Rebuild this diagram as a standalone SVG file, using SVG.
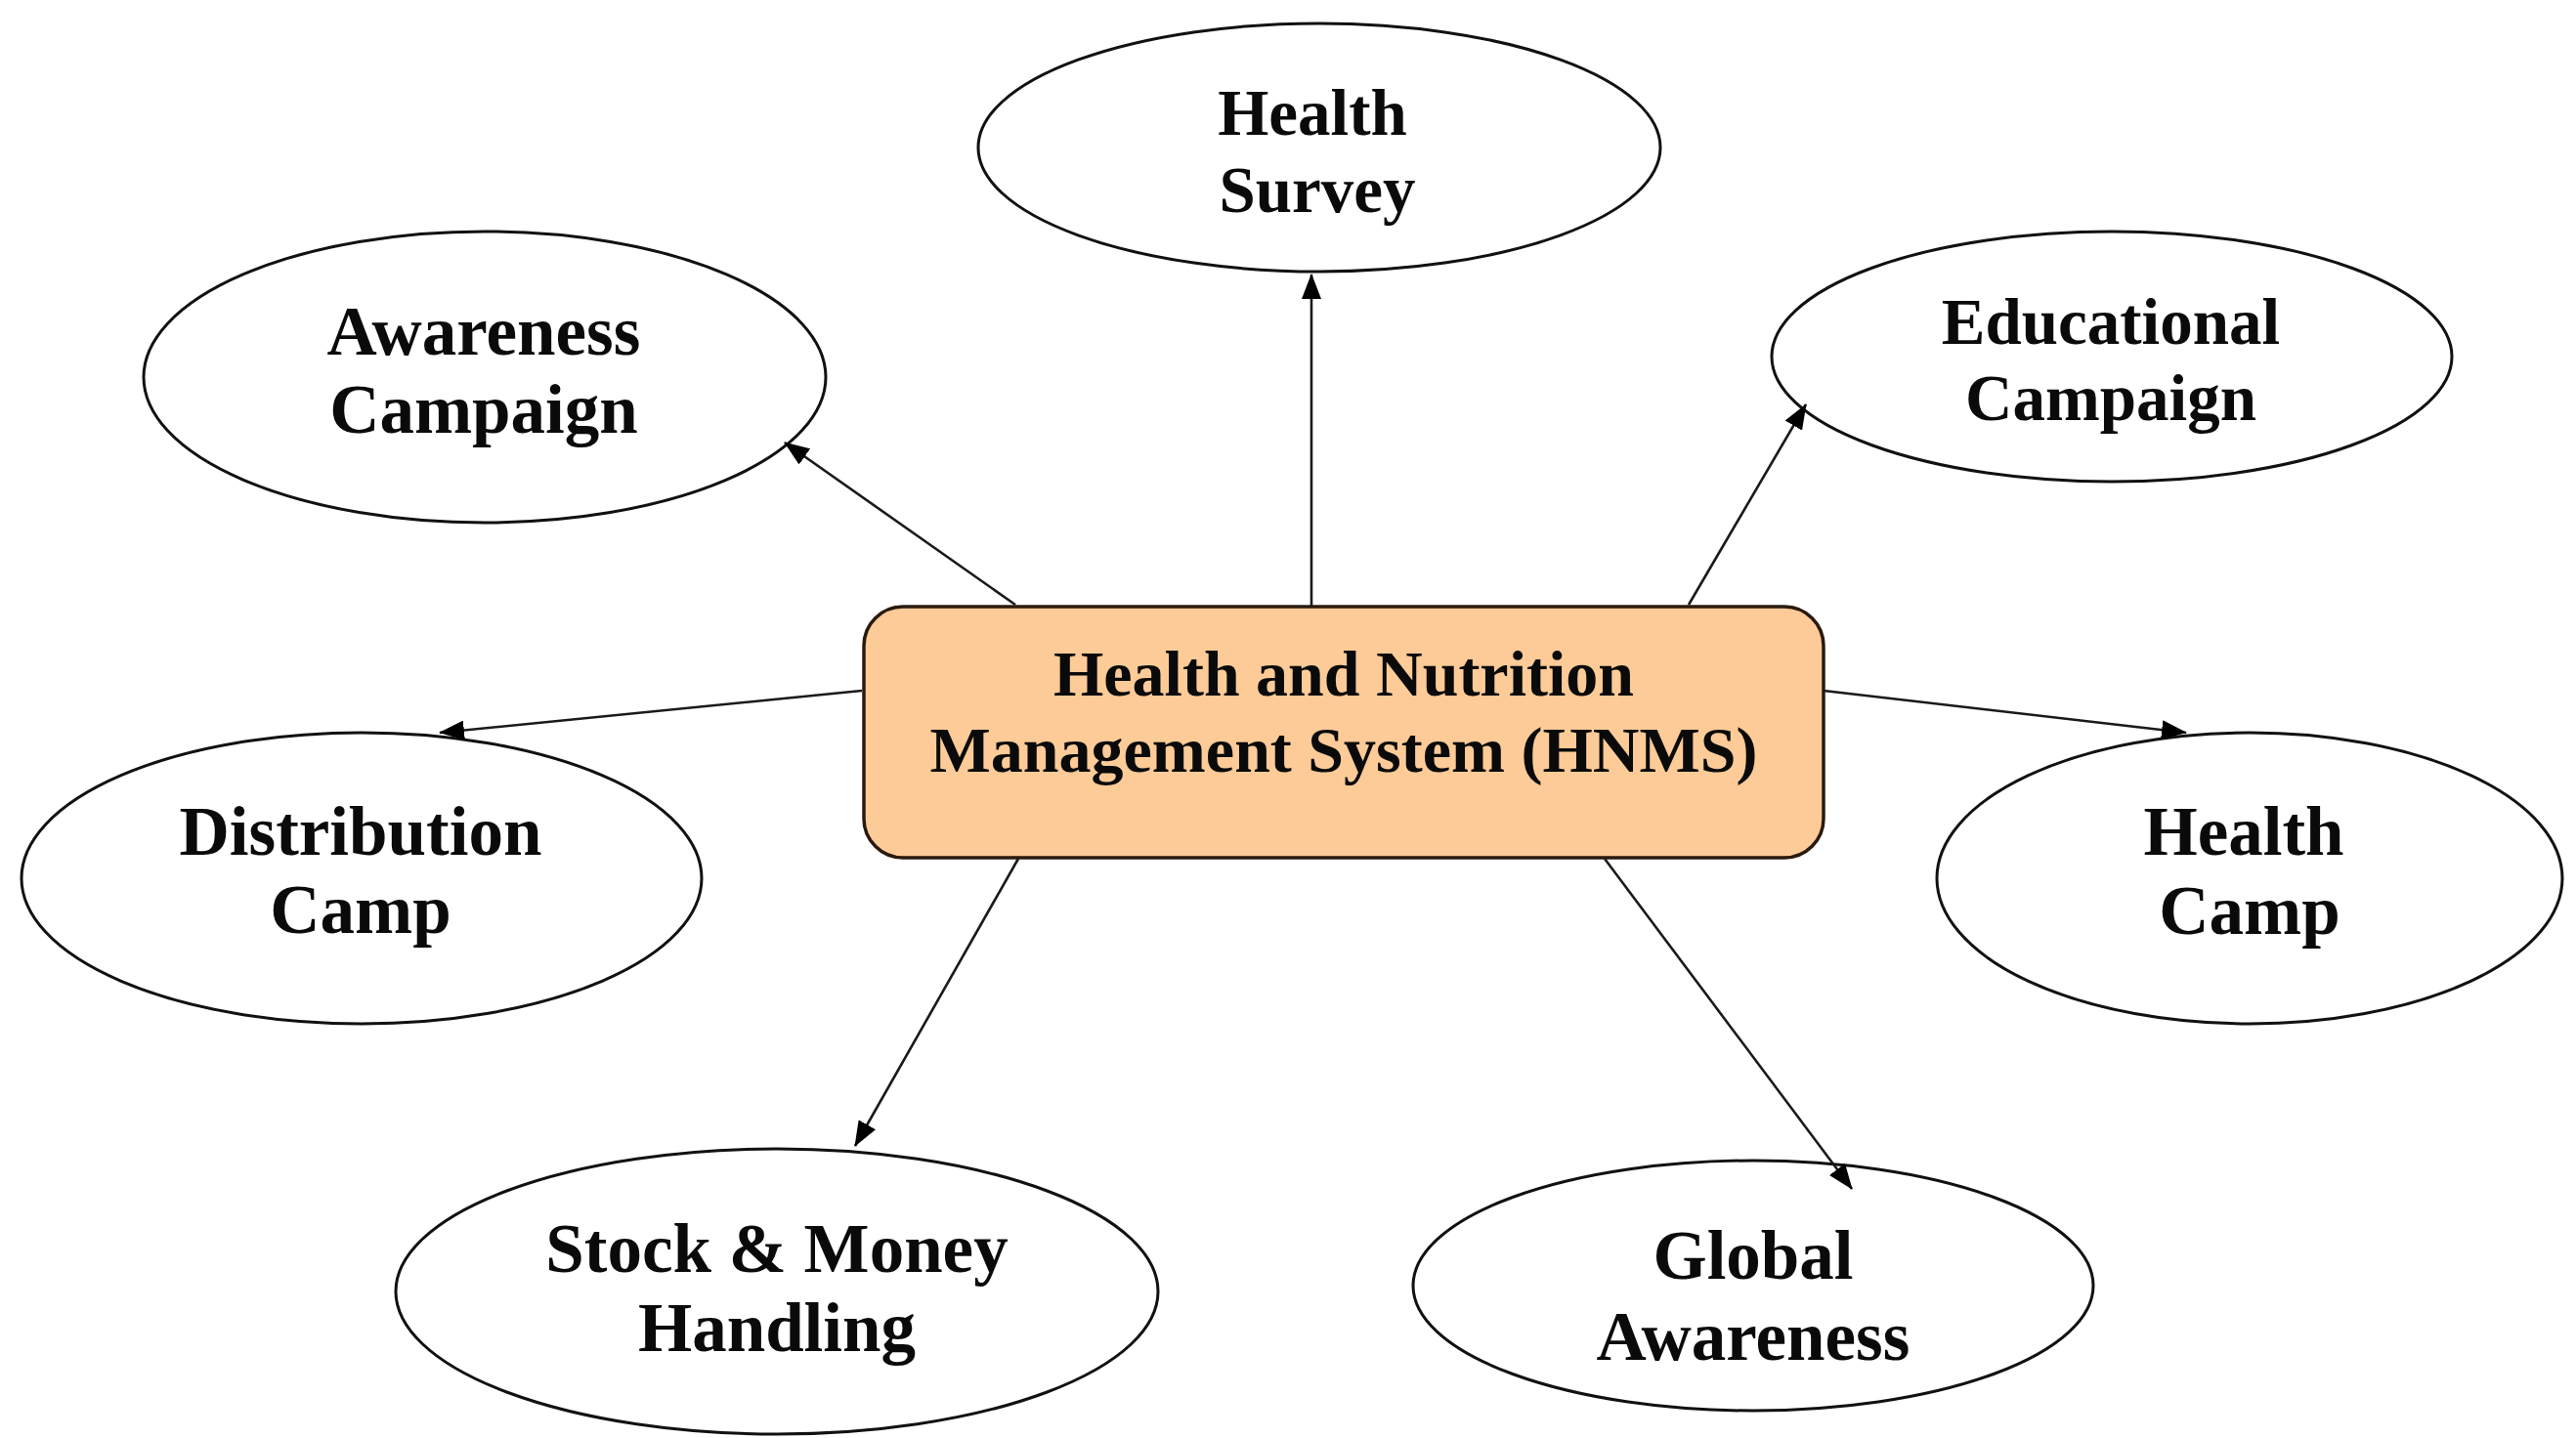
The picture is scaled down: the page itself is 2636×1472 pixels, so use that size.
<svg xmlns="http://www.w3.org/2000/svg" width="2636" height="1472" viewBox="0 0 2636 1472">
<style>
.bg{fill:#ffffff}
.oval{fill:#ffffff;stroke:#111111;stroke-width:3}
.box{fill:#fccb98;stroke:#2a1a0e;stroke-width:3.5}
.lbl{font-family:"Liberation Serif","Times New Roman",serif;font-weight:bold;font-size:66px;fill:#0a0a0a;text-anchor:middle}
.olbl{font-size:71px}
.slbl{font-size:67px}
.edge{stroke:#1a1a1a;stroke-width:2.6;fill:none;marker-end:url(#arr)}
</style>
<defs>
<marker id="arr" markerUnits="userSpaceOnUse" markerWidth="26" markerHeight="20" refX="25" refY="10" orient="auto">
<path d="M0,0 L26,10 L0,20 z" fill="#000000"/>
</marker>
</defs>
<rect class="bg" x="0" y="0" width="2636" height="1472"/>
<g id="hnms">
<rect class="box" x="884" y="621" width="982" height="257" rx="40" ry="40"/>
<text class="lbl" x="1375" y="712">Health and Nutrition</text>
<text class="lbl" x="1375" y="790">Management System (HNMS)</text>
</g>
<g id="health-survey">
<ellipse class="oval" cx="1350" cy="151" rx="349" ry="127"/>
<text class="lbl slbl" x="1343" y="138">Health</text>
<text class="lbl slbl" x="1348" y="217">Survey</text>
</g>
<g id="awareness-campaign">
<ellipse class="oval" cx="496" cy="386" rx="349" ry="149"/>
<text class="lbl olbl" x="495" y="363">Awareness</text>
<text class="lbl olbl" x="495" y="443">Campaign</text>
</g>
<g id="educational-campaign">
<ellipse class="oval" cx="2161" cy="365" rx="348" ry="128"/>
<text class="lbl slbl" x="2160" y="352">Educational</text>
<text class="lbl slbl" x="2160" y="430">Campaign</text>
</g>
<g id="distribution-camp">
<ellipse class="oval" cx="370" cy="899" rx="348" ry="149"/>
<text class="lbl olbl" x="369" y="875">Distribution</text>
<text class="lbl olbl" x="369" y="955">Camp</text>
</g>
<g id="health-camp">
<ellipse class="oval" cx="2302" cy="899" rx="320" ry="149"/>
<text class="lbl olbl" x="2296" y="875">Health</text>
<text class="lbl olbl" x="2302" y="956">Camp</text>
</g>
<g id="stock-money-handling">
<ellipse class="oval" cx="795" cy="1322" rx="390" ry="146"/>
<text class="lbl olbl" x="795" y="1302">Stock &amp; Money</text>
<text class="lbl olbl" x="795" y="1383">Handling</text>
</g>
<g id="global-awareness">
<ellipse class="oval" cx="1794" cy="1316" rx="348" ry="128"/>
<text class="lbl olbl" x="1794" y="1309">Global</text>
<text class="lbl olbl" x="1794" y="1392">Awareness</text>
</g>
<g id="connectors">
<line class="edge" x1="1342" y1="621" x2="1342" y2="281"/>
<line class="edge" x1="1039" y1="619" x2="803" y2="453"/>
<line class="edge" x1="1728" y1="619" x2="1848" y2="414"/>
<line class="edge" x1="882" y1="707" x2="450" y2="750"/>
<line class="edge" x1="1866" y1="707" x2="2237" y2="750"/>
<line class="edge" x1="1042" y1="879" x2="875" y2="1173"/>
<line class="edge" x1="1642" y1="879" x2="1895" y2="1217"/>
</g>
</svg>
